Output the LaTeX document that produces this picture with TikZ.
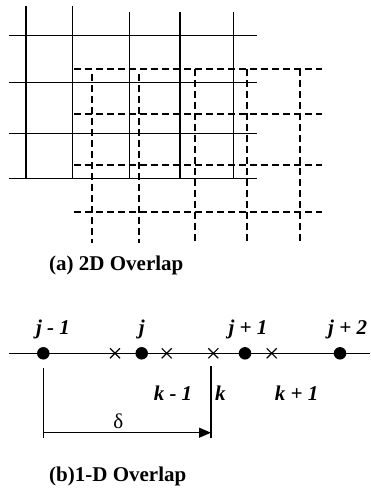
\documentclass[tikz,border=0pt]{standalone}
\usepackage{fontspec}
\setmainfont{Liberation Serif}
\newfontfamily\tms{Liberation Serif}
\usetikzlibrary{arrows.meta}
\begin{document}
\begin{tikzpicture}[x=1pt,y=-1pt,
  solidline/.style={line width=1.4pt},
  dashline/.style={line width=2pt, dash pattern=on 7pt off 4pt},
  dot/.style={circle, fill=black, inner sep=0pt, minimum size=12.5pt},
  lbl/.style={font=\tms\fontsize{21}{24}\selectfont\bfseries\itshape, inner sep=0pt},
  captext/.style={font=\tms\fontsize{21}{24}\selectfont\bfseries, inner sep=0pt, anchor=west},
  crossmark/.style={line width=1.2pt}]
\useasboundingbox (0,0) rectangle (370,497);
% solid grid
\foreach \x/\t in {26/6, 72.7/6, 129.3/12, 180/12, 233.3/12}
  \draw[solidline] (\x,\t) -- (\x,178.7);
\foreach \y in {35.7, 82.7, 133.7, 178.7}
  \draw[solidline] (9,\y) -- (257.3,\y);
% dashed grid
\foreach \y in {69.3, 114.3, 164.7, 212}
  \draw[dashline] (74,\y) -- (322.3,\y);
\foreach \x/\t in {91.7/74, 138.7/74, 195/69.3, 246.7/69.3, 300/69.3}
  \draw[dashline] (\x,\t) -- (\x,242.7);
% caption a
\node[captext] (capa) at (49,265) {(a) 2D Overlap};
% 1D line
\coordinate (L0) at (9,353.3);
\coordinate (L1) at (370,353.3);
\draw[solidline] (L0) -- (L1);
\node[dot] (d1) at (43.3,353.3) {};
\node[dot] (d2) at (141.7,353.3) {};
\node[dot] (d3) at (245,353.3) {};
\node[dot] (d4) at (340,353.3) {};
\foreach \x in {115, 166.7, 213.3, 271.7}
  \draw[crossmark] (\x-5,353.3-5) -- (\x+5,353.3+5) (\x-5,353.3+5) -- (\x+5,353.3-5);
\node[lbl] (lj1) at (53,329) {j - 1};
\node[lbl] (lj) at (141.7,329) {j};
\node[lbl] (lj2) at (248,329) {j + 1};
\node[lbl, anchor=west] (lj3) at (328,329) {j + 2};
% vertical markers and delta arrow
\coordinate (v1t) at (43.3,368);
\coordinate (v1b) at (43.3,438.3);
\coordinate (v2t) at (211,366);
\coordinate (v2b) at (211,438.3);
\draw[solidline] (v1t) -- (v1b);
\draw[solidline] (v2t) -- (v2b);
\coordinate (a1) at (43.3,432.7);
\coordinate (a2) at (211,432.7);
\draw[solidline, -{Triangle[length=12pt,width=10pt]}] (a1) -- (a2);
\node[font=\tms\fontsize{21}{24}\selectfont, inner sep=0pt] (delta) at (118.3,421) {δ};
\node[lbl] (lk1) at (173,393) {k - 1};
\node[lbl, anchor=west] (lk) at (215,393) {k};
\node[lbl] (lk2) at (296.7,393) {k + 1};
\node[captext] (capb) at (49,476.7) {(b)1-D Overlap};
\end{tikzpicture}
\end{document}
